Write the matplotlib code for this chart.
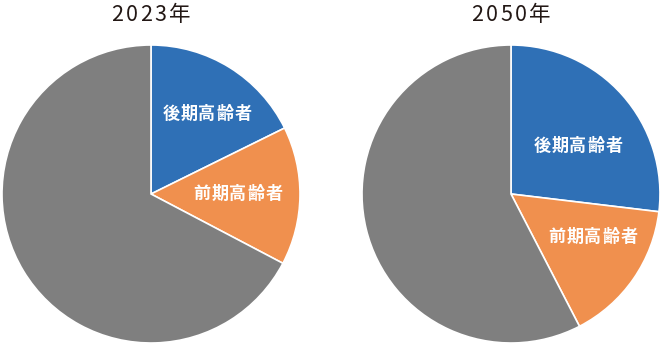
import matplotlib
matplotlib.use("Agg")
import matplotlib.pyplot as plt

plt.rcParams['font.family'] = ['Noto Sans CJK JP', 'DejaVu Sans']

W, H = 663, 345

years = ["2023年", "2050年"]
labels = ["後期高齢者", "前期高齢者", ""]
share_2023 = [17.7, 15.0, 67.3]
share_2050 = [26.9, 15.5, 57.6]
colors = ["#2F70B6", "#F0904E", "#7F7F7F"]

# pixel layout: (centre x, centre y, radius)
pies = [(151, 194, 149), (511, 194, 149)]
# label centres as fractions of the radius (x right, y up) from the pie centre
label_pos = [[(0.376, 0.537), (0.584, 0.0)],
             [(0.45, 0.32), (0.55, -0.29)]]


def tracked_text(fig, cx, cy, s, spacing, **kw):
    """Draw s centred at pixel (cx, cy from top) with extra letter spacing in px."""
    renderer = fig.canvas.get_renderer()

    def width(txt):
        t = fig.text(0, 0, txt, **kw)
        w = t.get_window_extent(renderer).width
        t.remove()
        return w

    # glyph advance = width of doubled char minus width of single char
    adv = [width(ch * 2) - width(ch) for ch in s]
    total = sum(adv) + spacing * (len(s) - 1)
    x = cx - total / 2
    for ch, a in zip(s, adv):
        fig.text((x + a / 2) / W, 1 - cy / H, ch, ha="center", va="center", **kw)
        x += a + spacing


fig = plt.figure(figsize=(W / 100, H / 100), dpi=100)

for (cx, cy, r), year, share, lpos in zip(pies, years, [share_2023, share_2050], label_pos):
    ax = fig.add_axes([(cx - r) / W, (H - cy - r) / H, 2 * r / W, 2 * r / H])
    wedges, _ = ax.pie(share, colors=colors, startangle=90, counterclock=False,
                       wedgeprops=dict(edgecolor="white", linewidth=1.2))
    ax.set_xlim(-1, 1)
    ax.set_ylim(-1, 1)
    ax.set_aspect("equal")
    ax.axis("off")

    for lab, (fx, fy) in zip(labels[:2], lpos):
        tracked_text(fig, cx + fx * r, cy - fy * r, lab, 0.8, color="white",
                     fontsize=12.3, fontweight="bold")

    tracked_text(fig, cx, 15, year, 2.5, fontsize=15.5, color="#231815")

fig.savefig("out.png", dpi=100)
